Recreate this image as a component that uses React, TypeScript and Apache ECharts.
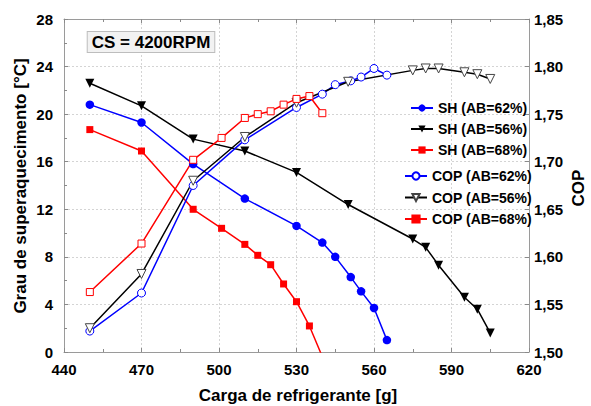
import React, { useEffect, useRef } from "react";
import * as echarts from "echarts";

// Refrigerant charge [g]
const x62 = [450, 470, 490, 510, 530, 540, 545, 551, 555, 560, 565];
const x56 = [450, 470, 490, 510, 530, 550, 575, 580, 585, 595, 600, 605];
const x68 = [450, 470, 490, 501, 510, 515, 520, 525, 530, 535, 540];

// Superheat [°C]
const sh62 = [20.8, 19.3, 15.8, 12.9, 10.6, 9.2, 8.0, 6.3, 5.1, 3.7, 1.0];
const sh56 = [22.6, 20.7, 17.9, 16.9, 15.1, 12.4, 9.5, 8.8, 7.3, 4.6, 3.6, 1.6];
const sh68 = [18.7, 16.9, 12.0, 10.4, 9.05, 8.13, 7.34, 5.72, 4.23, 2.19, -0.4];

// COP
const cop62 = [1.522, 1.562, 1.675, 1.723, 1.757, 1.771, 1.781, 1.785, 1.789, 1.798, 1.791];
const cop56 = [1.525, 1.582, 1.680, 1.726, 1.762, 1.784, 1.796, 1.798, 1.798, 1.794, 1.792, 1.787];
const cop68 = [1.563, 1.614, 1.702, 1.725, 1.746, 1.750, 1.753, 1.760, 1.766, 1.769, 1.751];

const shNames = ["SH (AB=62%)", "SH (AB=56%)", "SH (AB=68%)"];
const copNames = ["COP (AB=62%)", "COP (AB=56%)", "COP (AB=68%)"];

const FONT = "Liberation Sans, Arial, sans-serif";

function pairs(xs: number[], ys: number[]) {
  return xs.map((x, i) => [x, ys[i]]);
}

export default function App() {
  const ref = useRef<HTMLDivElement>(null);
  useEffect(() => {
    if (!ref.current) return;
    const chart = echarts.init(ref.current, undefined, { renderer: "svg" });
    const axisLine = { show: true, lineStyle: { color: "#9a9a9a", width: 1 } };
    const split = { show: true, lineStyle: { color: "#d4d4d4", type: [2, 2] as any, width: 1 } };
    const tick = { show: true, inside: true, length: 4, lineStyle: { color: "#8a8a8a" } };
    const minor = { show: true, splitNumber: 2, length: 3, lineStyle: { color: "#8a8a8a" } };
    const label = { color: "#000", fontWeight: "bold" as const, fontSize: 15, fontFamily: FONT };

    const sh68Data: any[] = pairs(x68, sh68).map((p, i) =>
      i === x68.length - 1 ? { value: p, symbol: "none" } : p
    );

    chart.setOption({
      animation: false,
      backgroundColor: "#fff",
      grid: { left: 64, right: 62, top: 19, bottom: 54 },
      legend: [
        {
          data: shNames,
          orient: "vertical",
          left: 405,
          top: 96,
          itemWidth: 22,
          itemHeight: 9,
          itemGap: 7,
          textStyle: { color: "#000", fontWeight: "bold", fontSize: 14, fontFamily: FONT },
        },
        {
          data: [
            copNames[0],
            copNames[1],
            { name: copNames[2], itemStyle: { color: "#ff0000", borderColor: "#ff0000" } },
          ],
          orient: "vertical",
          left: 399,
          top: 164,
          itemWidth: 22,
          itemHeight: 9,
          itemGap: 7.5,
          textStyle: { color: "#000", fontWeight: "bold", fontSize: 14, fontFamily: FONT },
        },
      ],
      xAxis: [
        {
          type: "value",
          position: "bottom",
          min: 440,
          max: 620,
          interval: 30,
          axisLine,
          axisTick: tick,
          minorTick: minor,
          splitLine: split,
          axisLabel: { ...label, margin: 10 },
        },
        {
          type: "value",
          position: "top",
          min: 440,
          max: 620,
          interval: 30,
          axisLine,
          axisTick: tick,
          minorTick: minor,
          splitLine: { show: false },
          axisLabel: { show: false },
        },
      ],
      yAxis: [
        {
          type: "value",
          position: "left",
          min: 0,
          max: 28,
          interval: 4,
          axisLine,
          axisTick: tick,
          minorTick: minor,
          splitLine: split,
          axisLabel: { ...label, margin: 11 },
        },
        {
          type: "value",
          position: "right",
          min: 1.5,
          max: 1.85,
          interval: 0.05,
          axisLine,
          axisTick: tick,
          splitLine: { show: false },
          axisLabel: {
            ...label,
            margin: 5,
            formatter: (v: number) => v.toFixed(2).replace(".", ","),
          },
        },
      ],
      series: [
        {
          name: shNames[0],
          type: "line",
          xAxisIndex: 0,
          yAxisIndex: 0,
          data: pairs(x62, sh62),
          symbol: "circle",
          symbolSize: 8.5,
          lineStyle: { color: "#0000ff", width: 1.5 },
          itemStyle: { color: "#0000ff" },
          z: 3,
        },
        {
          name: shNames[1],
          type: "line",
          xAxisIndex: 0,
          yAxisIndex: 0,
          data: pairs(x56, sh56),
          symbol: "triangle",
          symbolRotate: 180,
          symbolSize: 9,
          lineStyle: { color: "#000", width: 1.5 },
          itemStyle: { color: "#000" },
          z: 3,
        },
        {
          name: shNames[2],
          type: "line",
          xAxisIndex: 0,
          yAxisIndex: 0,
          data: sh68Data,
          clip: true,
          symbol: "rect",
          symbolSize: 7,
          lineStyle: { color: "#ff0000", width: 1.5 },
          itemStyle: { color: "#ff0000" },
          z: 3,
        },
        {
          name: copNames[0],
          type: "line",
          xAxisIndex: 0,
          yAxisIndex: 1,
          data: pairs(x62, cop62),
          symbol: "circle",
          symbolSize: 8,
          lineStyle: { color: "#0000ff", width: 1.5 },
          itemStyle: { color: "#fff", borderColor: "#0000ff", borderWidth: 1 },
          z: 3,
        },
        {
          name: copNames[1],
          type: "line",
          xAxisIndex: 0,
          yAxisIndex: 1,
          data: pairs(x56, cop56),
          symbol: "triangle",
          symbolRotate: 180,
          symbolSize: 9,
          lineStyle: { color: "#000", width: 1.5 },
          itemStyle: { color: "#fff", borderColor: "#444", borderWidth: 1 },
          z: 3,
        },
        {
          name: copNames[2],
          type: "line",
          xAxisIndex: 0,
          yAxisIndex: 1,
          data: pairs(x68, cop68),
          symbol: "rect",
          symbolSize: 7,
          lineStyle: { color: "#ff0000", width: 1.5 },
          itemStyle: { color: "#fff", borderColor: "#ff0000", borderWidth: 1 },
          z: 3,
        },
      ],
      graphic: [
        {
          type: "text",
          x: 151,
          y: 42,
          z: 10,
          style: {
            text: "CS = 4200RPM",
            fill: "#000",
            font: `bold 17px ${FONT}`,
            align: "center",
            verticalAlign: "middle",
            backgroundColor: "#f2f2f2",
            borderColor: "#bdbdbd",
            borderWidth: 1,
            padding: [2, 4, 1, 4],
          },
        },
        {
          type: "text",
          x: 20,
          y: 186,
          rotation: Math.PI / 2,
          style: {
            text: "Grau de superaquecimento [°C]",
            fill: "#000",
            font: `bold 17px ${FONT}`,
            align: "center",
            verticalAlign: "middle",
          },
        },
        {
          type: "text",
          x: 578,
          y: 188,
          rotation: Math.PI / 2,
          style: {
            text: "COP",
            fill: "#000",
            font: `bold 17px ${FONT}`,
            align: "center",
            verticalAlign: "middle",
          },
        },
        {
          type: "text",
          x: 298,
          y: 395,
          style: {
            text: "Carga de refrigerante [g]",
            fill: "#000",
            font: `bold 17px ${FONT}`,
            align: "center",
            verticalAlign: "middle",
          },
        },
      ],
    });
    return () => chart.dispose();
  }, []);
  return <div ref={ref} style={{ width: 591, height: 406, position: "absolute", left: 0, top: 0 }} />;
}
